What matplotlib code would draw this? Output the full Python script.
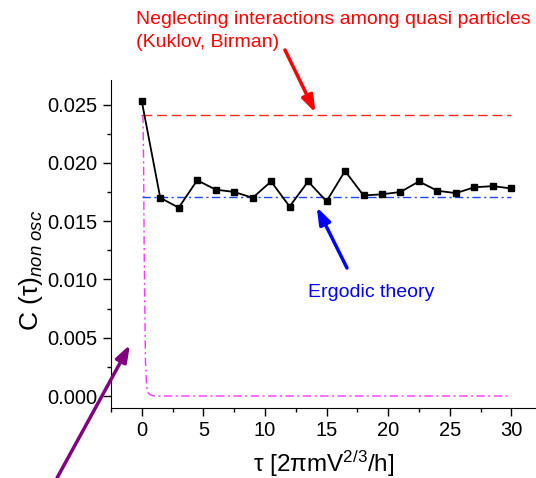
import matplotlib
matplotlib.use("Agg")
import matplotlib.pyplot as plt
from matplotlib.ticker import MultipleLocator

plt.rcParams['font.family'] = ['Liberation Sans', 'DejaVu Sans']
plt.rcParams['mathtext.fontset'] = 'custom'
plt.rcParams['mathtext.rm'] = 'Liberation Sans'
plt.rcParams['mathtext.it'] = 'Liberation Sans:italic'

# simulated correlation (black squares)
tau = [0, 1.5, 3, 4.5, 6, 7.5, 9, 10.5, 12, 13.5, 15, 16.5, 18, 19.5, 21,
       22.5, 24, 25.5, 27, 28.5, 30]
c_sim = [0.0253, 0.0170, 0.01615, 0.0185, 0.0177, 0.0175, 0.0170, 0.0184,
         0.01625, 0.0184, 0.0167, 0.0193, 0.0172, 0.0173, 0.0175, 0.0184,
         0.0176, 0.0174, 0.0179, 0.0180, 0.0178]

# horizontal reference levels
tau_ref = [0, 30]
c_kuklov = [0.0241, 0.0241]
c_ergodic = [0.0171, 0.0171]

# fast decaying curve (magenta)
tau_fast = [0, 0.1, 0.15, 0.2, 0.3, 0.4, 0.5, 0.7, 1.0, 30]
c_fast = [0.0241, 0.0239, 0.020, 0.012, 0.003, 0.0008, 0.0003, 0.0001, 0.0, 0.0]

fig = plt.figure(figsize=(5.36, 4.78), dpi=100)
ax = fig.add_axes([0.207, 0.1464, 0.793, 0.6862])

ax.plot(tau_fast, c_fast, color='#ff33ff', lw=1.0, dashes=(6, 2.5, 1.5, 2.5))
ax.plot(tau_ref, c_kuklov, color='#ff2a1a', lw=1.0, dashes=(7, 3.5))
ax.plot(tau_ref, c_ergodic, color='#1f45ff', lw=1.0, dashes=(6, 2.5, 1.5, 2.5))
ax.plot(tau, c_sim, color='black', lw=1.3, marker='s', ms=5)

ax.set_xlim(-2.5, 32)
ax.set_ylim(-0.00103, 0.0271)
ax.spines['top'].set_visible(False)
ax.spines['right'].set_visible(False)
ax.xaxis.set_major_locator(MultipleLocator(5))
ax.xaxis.set_minor_locator(MultipleLocator(2.5))
ax.yaxis.set_major_locator(MultipleLocator(0.005))
ax.yaxis.set_minor_locator(MultipleLocator(0.0025))
ax.yaxis.set_major_formatter(plt.FormatStrFormatter('%.3f'))
ax.tick_params(which='major', direction='out', length=6, width=1, labelsize=14.5)
ax.tick_params(which='minor', direction='out', length=3, width=1)

ax.set_xlabel(r'τ [2πmV$^{2/3}$/h]', fontsize=17.5, labelpad=6)
ax.set_ylabel(r'C (τ)$_{\mathit{non\ osc}}$', fontsize=19)
ax.yaxis.set_label_coords(-0.155, 0.418)

# annotations
ax.text(0.254, 0.976, 'Neglecting interactions among quasi particles\n(Kuklov, Birman)',
        transform=fig.transFigure, color='red', fontsize=14, va='top', ha='left',
        linespacing=1.45)
ax.annotate('', xy=(14.1, 0.0243), xytext=(285 / 536, 1 - 50 / 478),
            textcoords='figure fraction',
            arrowprops=dict(arrowstyle='-|>,head_length=1.0,head_width=0.35',
                            color='red', lw=2.5, shrinkA=0, shrinkB=0))
ax.text(13.5, 0.0089, 'Ergodic theory', color='blue', fontsize=14,
        ha='left', va='center')
ax.annotate('', xy=(14.2, 0.0162), xytext=(347 / 536, 1 - 268 / 478),
            textcoords='figure fraction',
            arrowprops=dict(arrowstyle='-|>,head_length=1.0,head_width=0.35',
                            color='blue', lw=2.5, shrinkA=0, shrinkB=0))
ax.annotate('', xy=(-0.95, 0.0044), xytext=(57 / 536, 1 - 478 / 478),
            textcoords='figure fraction', annotation_clip=False,
            arrowprops=dict(arrowstyle='-|>,head_length=1.0,head_width=0.35',
                            color='purple', lw=2.5, shrinkA=0, shrinkB=0))

fig.savefig('out.png', dpi=100)
